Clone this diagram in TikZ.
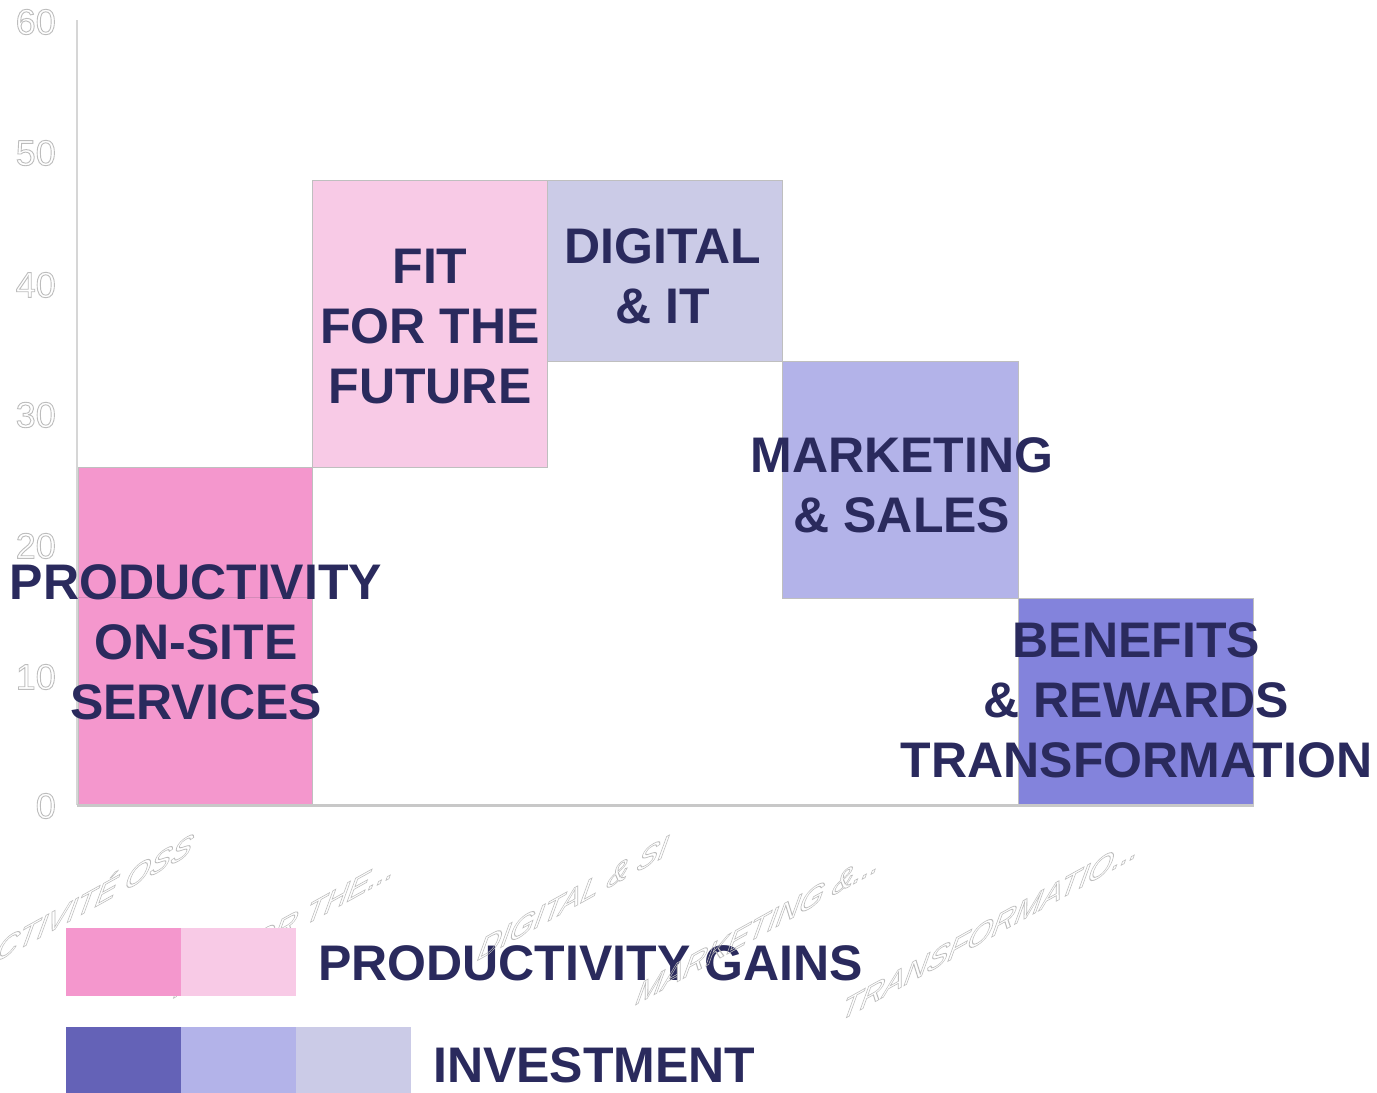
\documentclass[tikz,border=0pt]{standalone}
\usepackage{fontspec}
\setmainfont{Liberation Sans}
\definecolor{cA}{HTML}{F497CD}
\definecolor{cB}{HTML}{F8CAE6}
\definecolor{cC}{HTML}{CBCBE7}
\definecolor{cD}{HTML}{B3B3E9}
\definecolor{cE}{HTML}{8383DC}
\definecolor{cF}{HTML}{6462B7}
\definecolor{navy}{HTML}{2A2A5D}
\definecolor{tickgray}{HTML}{BDBDBD}
\definecolor{axisgray}{HTML}{D6D6D6}
\definecolor{axisx}{HTML}{C8C8C8}
\definecolor{barline}{HTML}{BFBFBF}
\definecolor{faintline}{HTML}{D48BB8}
\newcommand\outl[1]{\special{pdf:literal direct 1 Tr 0.9 w}#1\special{pdf:literal direct 0 Tr}}
\begin{document}
\begin{tikzpicture}[x=1pt,y=1pt,
  bar/.style={draw=barline, line width=0.8pt},
  barlabel/.style={font=\fontsize{50}{60}\selectfont\bfseries, text=navy, align=center, inner sep=0pt},
  tick/.style={font=\fontsize{36}{40}\selectfont, text=tickgray, inner sep=0pt, anchor=east},
  cat/.style={font=\fontsize{38}{40}\selectfont, text=tickgray, inner sep=0pt, anchor=base east, transform shape},
  catframe/.style={cm={0.831,0.461,0.33,0.91,(0,0)}},
  legendtext/.style={font=\fontsize{50}{60}\selectfont\bfseries, text=navy, inner sep=0pt, anchor=base west}]
\useasboundingbox (0,0) rectangle (1377,-1093);
\fill[white] (0,0) rectangle (1377,-1093);
% y axis
\draw[axisgray, line width=1.2pt] (77,-20) -- (77,-805);
% tick labels
\node[tick] (t60) at (56,-22) {\outl{60}};
\node[tick] (t50) at (56,-153) {\outl{50}};
\node[tick] (t40) at (56,-285) {\outl{40}};
\node[tick] (t30) at (56,-415) {\outl{30}};
\node[tick] (t20) at (56,-546) {\outl{20}};
\node[tick] (t10) at (56,-677) {\outl{10}};
\node[tick] (t0) at (56,-806) {\outl{0}};
% bars
\draw[bar, fill=cA] (78,-805) rectangle (312,-467);
\draw[bar, fill=cB] (312,-467) rectangle (547,-180);
\draw[bar, fill=cC] (547,-361) rectangle (782,-180);
\draw[bar, fill=cD] (782,-598) rectangle (1018,-361);
\draw[bar, fill=cE] (1018,-805) rectangle (1253,-598);
\draw[faintline, line width=0.8pt] (78,-597.5) -- (312,-597.5);
% x axis
\draw[axisx, line width=2.5pt] (77,-805.5) -- (1254,-805.5);
% bar labels
\node[barlabel] (l1) at (196,-642) {PRODUCTIVITY\\ON-SITE\\SERVICES};
\node[barlabel] (l2) at (430,-327) {FIT\\FOR THE\\FUTURE};
\node[barlabel] (l3) at (663,-276.5) {DIGITAL\\\& IT};
\node[barlabel] (l4) at (902,-485) {MARKETING\\\& SALES};
\node[barlabel] (l5) at (1136.5,-700.5) {BENEFITS\\\& REWARDS\\TRANSFORMATION};
% legend text
\node[legendtext] (g1) at (318,-980) {PRODUCTIVITY GAINS};
\node[legendtext] (g2) at (433,-1082) {INVESTMENT};
% category labels
\begin{scope}[shift={(189,-855)}, catframe]
\node[cat] (c1) at (0,0) {\outl{PRODUCTIVITÉ OSS}};
\end{scope}
\begin{scope}[shift={(392,-877)}, catframe]
\node[cat] (c2) at (0,0) {\outl{FIT FOR THE...}};
\end{scope}
\begin{scope}[shift={(664,-857)}, catframe]
\node[cat] (c3) at (0,0) {\outl{DIGITAL \& SI}};
\end{scope}
\begin{scope}[shift={(877,-871)}, catframe]
\node[cat] (c4) at (0,0) {\outl{MARKETING \&...}};
\end{scope}
\begin{scope}[shift={(1136,-857)}, catframe]
\node[cat] (c5) at (0,0) {\outl{TRANSFORMATIO...}};
\end{scope}
% legend swatches
\fill[cA] (66,-928) rectangle (181,-996);
\fill[cB] (181,-928) rectangle (296,-996);
\fill[cF] (66,-1027) rectangle (181,-1093);
\fill[cD] (181,-1027) rectangle (296,-1093);
\fill[cC] (296,-1027) rectangle (411,-1093);
\end{tikzpicture}
\end{document}
